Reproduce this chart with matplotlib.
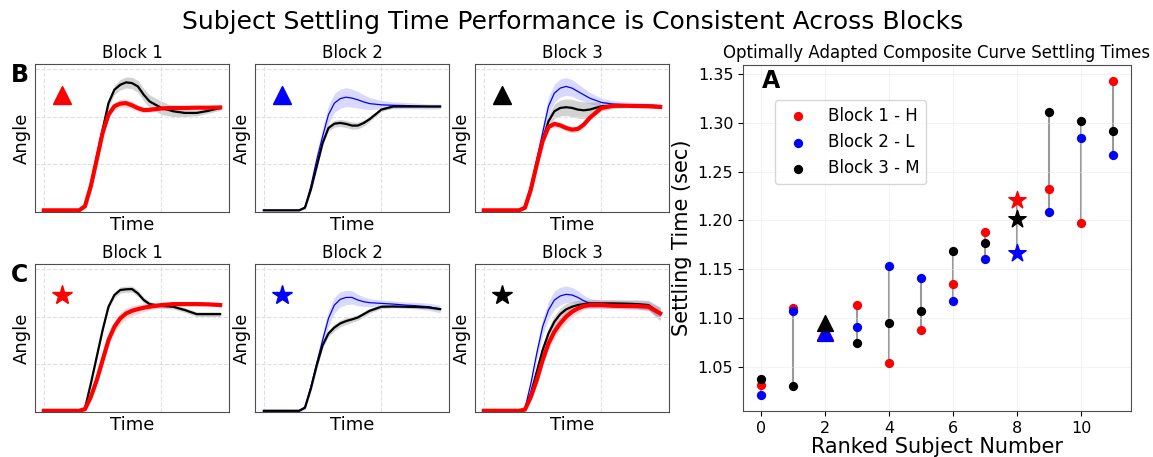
import numpy as np
import matplotlib.pyplot as plt

# time grid (s) shared by all composite curves
t = [0, 0.3, 0.35, 0.4, 0.45, 0.5, 0.55, 0.6, 0.65, 0.7, 0.75, 0.8, 0.85, 0.9, 1.0, 1.1, 1.2, 1.3, 1.4, 1.5]

# row B (triangle subject) - mean angle and band half width
b1_black = [0.7, 0.7, 2.6, 11.5, 23.0, 34.5, 45.6, 51.2, 53.3, 54.3, 54.0, 52.6, 49.1, 46.3, 43.6, 42.2, 41.5, 41.5, 42.4, 43.6]
b1_black_sd = [0.1, 0.1, 0.4, 0.8, 1.0, 1.2, 1.6, 2.0, 2.2, 2.3, 2.4, 2.5, 2.6, 2.7, 2.8, 2.2, 1.5, 1.2, 1.0, 1.0]
b1_red = [0.7, 0.7, 2.4, 10.8, 21.9, 33.1, 40.8, 44.3, 45.4, 45.6, 44.7, 43.5, 42.7, 42.8, 43.4, 43.6, 43.6, 43.7, 43.7, 43.8]
b1_red_sd = [0.1, 0.1, 0.5, 0.8, 1.0, 1.2, 1.4, 1.6, 1.7, 1.7, 1.6, 1.4, 1.2, 1.0, 0.9, 0.8, 0.8, 0.8, 0.8, 0.8]

b2_blue = [0.7, 0.7, 2.0, 10.8, 21.9, 31.7, 40.8, 45.6, 47.5, 48.1, 47.7, 47.0, 46.1, 45.4, 44.9, 44.7, 44.6, 44.4, 44.2, 44.2]
b2_blue_sd = [0.2, 0.2, 0.8, 2.0, 3.0, 3.5, 3.8, 4.0, 4.0, 4.0, 3.8, 3.5, 3.0, 2.5, 1.8, 1.5, 1.3, 1.2, 1.1, 1.0]
b2_black = [0.7, 0.7, 1.8, 9.4, 19.1, 28.9, 35.2, 37.0, 37.3, 36.9, 36.2, 36.2, 37.3, 38.9, 42.9, 44.2, 44.2, 44.2, 44.2, 44.2]
b2_black_sd = [0.1, 0.1, 0.4, 0.8, 1.0, 1.2, 1.3, 1.4, 1.5, 1.5, 1.5, 1.4, 1.3, 1.0, 0.8, 0.6, 0.5, 0.5, 0.5, 0.5]

b3_blue = [0.7, 0.7, 2.0, 10.8, 21.9, 33.1, 44.3, 49.8, 51.9, 52.6, 51.9, 50.5, 49.1, 47.7, 45.9, 45.2, 45.0, 44.8, 44.7, 44.6]
b3_blue_sd = [0.2, 0.2, 0.8, 2.0, 3.0, 3.5, 3.8, 3.8, 3.8, 3.7, 3.5, 3.2, 2.8, 2.4, 1.8, 1.4, 1.2, 1.1, 1.0, 1.0]
b3_black = [0.7, 0.7, 1.9, 10.1, 20.5, 30.3, 38.0, 42.2, 43.6, 43.9, 43.6, 42.9, 42.6, 42.9, 44.3, 44.5, 44.5, 44.5, 44.5, 44.3]
b3_black_sd = [0.1, 0.1, 0.5, 1.0, 1.5, 2.0, 2.5, 3.0, 3.3, 3.5, 3.6, 3.6, 3.5, 3.0, 2.0, 1.2, 0.8, 0.7, 0.7, 0.7]
b3_red = [0.7, 0.7, 1.8, 9.4, 19.8, 29.6, 35.6, 36.9, 36.3, 35.2, 34.5, 34.8, 36.6, 39.4, 43.6, 44.5, 44.5, 44.4, 44.3, 44.0]
b3_red_sd = [0.1, 0.1, 0.4, 0.8, 1.0, 1.2, 1.3, 1.3, 1.3, 1.3, 1.3, 1.3, 1.3, 1.2, 1.0, 0.8, 0.7, 0.7, 0.7, 0.7]

# row C (star subject)
c1_black = [0.5, 0.5, 1.5, 11.9, 23.1, 34.3, 44.1, 49.0, 51.1, 51.4, 51.5, 49.7, 46.9, 45.2, 44.4, 44.1, 42.7, 41.0, 41.0, 41.0]
c1_black_sd = [0.1, 0.1, 0.4, 0.7, 0.9, 1.0, 1.1, 1.2, 1.3, 1.3, 1.3, 1.3, 1.2, 1.1, 1.0, 1.0, 1.0, 1.0, 1.0, 1.0]
c1_red = [0.5, 0.5, 1.2, 6.3, 13.3, 21.7, 30.1, 35.7, 39.2, 41.3, 42.4, 43.1, 43.7, 44.1, 44.8, 45.2, 45.2, 45.2, 45.1, 44.8]
c1_red_sd = [0.1, 0.1, 0.5, 1.0, 1.5, 2.0, 2.3, 2.5, 2.5, 2.4, 2.2, 2.0, 1.6, 1.3, 1.0, 0.8, 0.7, 0.7, 0.7, 0.7]

c2_blue = [0.5, 0.5, 2.0, 10.5, 20.3, 30.1, 39.2, 44.8, 47.2, 48.0, 48.0, 46.9, 46.2, 45.8, 45.5, 45.2, 44.8, 44.5, 44.1, 43.1]
c2_blue_sd = [0.8, 0.8, 1.0, 2.0, 2.8, 3.2, 3.3, 3.3, 3.2, 3.0, 2.8, 2.4, 2.0, 1.7, 1.4, 1.3, 1.3, 1.4, 1.5, 1.6]
c2_black = [0.5, 0.5, 1.8, 9.8, 19.6, 28.0, 32.9, 35.4, 37.1, 38.1, 38.8, 39.6, 41.0, 42.4, 44.1, 44.2, 44.1, 44.0, 43.8, 43.1]
c2_black_sd = [0.1, 0.1, 0.4, 0.8, 1.0, 1.2, 1.3, 1.4, 1.4, 1.4, 1.3, 1.2, 1.1, 1.0, 0.8, 0.6, 0.5, 0.5, 0.6, 0.7]

c3_blue = [0.5, 0.5, 1.5, 11.9, 24.5, 35.7, 42.7, 46.9, 48.6, 49.3, 49.0, 48.0, 46.6, 45.5, 45.2, 45.1, 44.9, 44.8, 44.4, 41.0]
c3_blue_sd = [0.2, 0.2, 0.8, 2.0, 3.0, 3.5, 3.7, 3.8, 3.7, 3.5, 3.2, 2.8, 2.4, 2.0, 1.8, 1.8, 1.8, 1.9, 2.0, 2.8]
c3_black = [0.5, 0.5, 1.2, 7.7, 16.8, 25.9, 32.9, 37.8, 41.0, 43.0, 44.1, 44.8, 45.2, 45.5, 45.5, 45.5, 45.4, 45.2, 44.8, 41.3]
c3_black_sd = [0.1, 0.1, 0.5, 1.0, 1.5, 2.0, 2.3, 2.5, 2.5, 2.4, 2.2, 2.0, 1.8, 1.6, 1.5, 1.5, 1.6, 1.8, 2.0, 2.6]
c3_red = [0.5, 0.5, 1.0, 6.3, 13.3, 21.7, 28.7, 33.6, 37.1, 39.9, 42.0, 43.4, 44.4, 44.8, 44.8, 44.5, 44.4, 44.4, 44.1, 41.3]
c3_red_sd = [0.1, 0.1, 0.5, 1.2, 1.8, 2.3, 2.6, 2.8, 2.8, 2.6, 2.4, 2.0, 1.6, 1.4, 1.2, 1.1, 1.1, 1.2, 1.4, 1.8]

# settling times per ranked subject (sec)
subjects = list(range(12))
block1_h = [1.032, 1.110, 1.086, 1.113, 1.054, 1.088, 1.135, 1.188, 1.221, 1.232, 1.197, 1.343]
block2_l = [1.021, 1.107, 1.085, 1.091, 1.153, 1.141, 1.118, 1.161, 1.167, 1.209, 1.284, 1.267]
block3_m = [1.038, 1.030, 1.095, 1.074, 1.095, 1.107, 1.169, 1.177, 1.201, 1.311, 1.302, 1.292]
triangle_subj = 2
star_subj = 8

style = {
    'black': dict(color='black', lw=1.6, band='gray', alpha=0.35),
    'red': dict(color='red', lw=3.0, band='red', alpha=0.15),
    'blue': dict(color='blue', lw=0.9, band='blue', alpha=0.15),
}

fig = plt.figure(figsize=(11.53, 4.57), dpi=100)
W, H = 1153, 457

def px_axes(l, r, top, bot):
    return fig.add_axes([l / W, 1 - bot / H, (r - l) / W, (bot - top) / H])

rows = [
    ('B', '^', 64, 212, [
        [('black', b1_black, b1_black_sd), ('red', b1_red, b1_red_sd)],
        [('blue', b2_blue, b2_blue_sd), ('black', b2_black, b2_black_sd)],
        [('blue', b3_blue, b3_blue_sd), ('black', b3_black, b3_black_sd), ('red', b3_red, b3_red_sd)],
    ]),
    ('C', '*', 264, 412, [
        [('black', c1_black, c1_black_sd), ('red', c1_red, c1_red_sd)],
        [('blue', c2_blue, c2_blue_sd), ('black', c2_black, c2_black_sd)],
        [('blue', c3_blue, c3_blue_sd), ('black', c3_black, c3_black_sd), ('red', c3_red, c3_red_sd)],
    ]),
]
lefts = [35, 255, 475]
marker_colors = ['red', 'blue', 'black']

for letter, mk, top, bot, panels in rows:
    for i, curves in enumerate(panels):
        ax = px_axes(lefts[i], lefts[i] + 194, top, bot)
        for name, mean, sd in curves:
            s = style[name]
            m = np.array(mean)
            e = np.array(sd)
            ax.fill_between(t, m - e, m + e, color=s['band'], alpha=s['alpha'], lw=0)
            ax.plot(t, m, color=s['color'], lw=s['lw'])
        ax.plot([0.14], [0.79], marker=mk, color=marker_colors[i], ms=13 if mk == '^' else 15,
                transform=ax.transAxes, ls='none')
        ax.set_xlim(-0.075, 1.575)
        ax.set_ylim(0, 62)
        ax.set_xticks([0, 1])
        ax.set_yticks([20, 40, 60])
        ax.tick_params(length=0, labelbottom=False, labelleft=False)
        ax.grid(True, ls='--', color='0.88', lw=0.8)
        ax.set_title('Block %d' % (i + 1), fontsize=12, pad=4)
        ax.set_xlabel('Time', fontsize=13, labelpad=3)
        ax.set_ylabel('Angle', fontsize=13, labelpad=3)
        for sp in ax.spines.values():
            sp.set_color('0.3')
    fig.text(20 / W, 1 - (top + 11) / H, letter, fontsize=17, fontweight='bold',
             ha='center', va='center')

# panel A
ax = px_axes(743, 1131, 65, 411)
for k in subjects:
    vals = [block1_h[k], block2_l[k], block3_m[k]]
    ax.plot([k, k], [min(vals), max(vals)], color='0.6', lw=1.5, zorder=1)
for k in subjects:
    if k == triangle_subj:
        mk, sz = '^', 130
    elif k == star_subj:
        mk, sz = '*', 170
    else:
        mk, sz = 'o', 32
    ax.scatter(k, block1_h[k], color='red', marker=mk, s=sz, zorder=2,
               label='Block 1 - H' if k == 0 else None)
    ax.scatter(k, block2_l[k], color='blue', marker=mk, s=sz, zorder=3,
               label='Block 2 - L' if k == 0 else None)
    ax.scatter(k, block3_m[k], color='black', marker=mk, s=sz, zorder=4,
               label='Block 3 - M' if k == 0 else None)
ax.set_xticks([0, 2, 4, 6, 8, 10])
ax.set_yticks([1.05, 1.10, 1.15, 1.20, 1.25, 1.30, 1.35])
ax.set_yticklabels(['1.05', '1.10', '1.15', '1.20', '1.25', '1.30', '1.35'])
ax.tick_params(labelsize=11.5)
ax.grid(True, color='0.9', lw=0.6, alpha=0.6)
ax.set_xlabel('Ranked Subject Number', fontsize=15, labelpad=1)
ax.set_ylabel('Settling Time (sec)', fontsize=15)
ax.set_title('Optimally Adapted Composite Curve Settling Times', fontsize=12, pad=5)
for sp in ax.spines.values():
    sp.set_color('0.3')
ax.legend(loc='upper left', bbox_to_anchor=(0.082, 0.899), borderaxespad=0, fontsize=12)
ax.text(0.072, 0.955, 'A', transform=ax.transAxes, fontsize=17, fontweight='bold',
        ha='center', va='center')

fig.text(0.497, 1 - 22 / H, 'Subject Settling Time Performance is Consistent Across Blocks',
         fontsize=18, ha='center', va='center')

fig.savefig('out.png', dpi=100)
